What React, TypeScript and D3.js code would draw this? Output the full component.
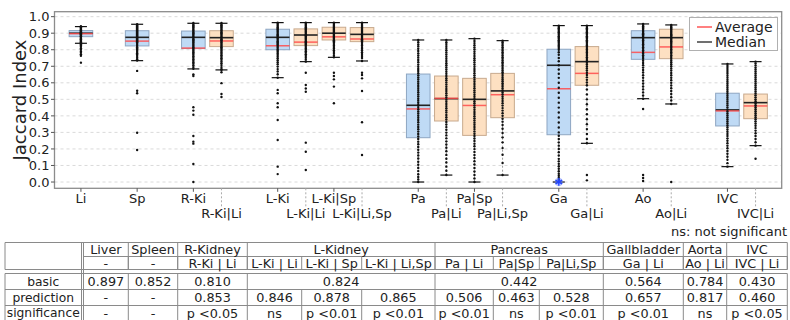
import React from "react";
import * as d3 from "d3";

// ---------- data ----------
const labels = ["Li","Sp","R-Ki","R-Ki|Li","L-Ki","L-Ki|Li","L-Ki|Sp","L-Ki|Li,Sp","Pa","Pa|Li","Pa|Sp","Pa|Li,Sp","Ga","Ga|Li","Ao","Ao|Li","IVC","IVC|Li"];
const slots = [0,2,4,5,7,8,9,10,12,13,14,15,17,18,20,21,23,24];
const isPrediction = [false,false,false,true,false,true,true,true,false,true,true,true,false,true,false,true,false,true];
const labelRow = [0,0,0,1,0,1,0,1,0,1,0,1,0,1,0,1,0,1];

const whiskerLow = [0.839,0.734,0.684,0.678,0.631,0.728,0.754,0.732,0.0,0.042,0.0,0.042,0.0,0.234,0.504,0.472,0.093,0.22];
const q1 = [0.879,0.823,0.807,0.819,0.80,0.825,0.859,0.849,0.268,0.369,0.282,0.389,0.286,0.585,0.742,0.746,0.339,0.383];
const medians = [0.90,0.875,0.875,0.873,0.875,0.889,0.90,0.893,0.464,0.504,0.50,0.551,0.706,0.728,0.873,0.873,0.436,0.48];
const means = [0.897,0.852,0.810,0.853,0.824,0.846,0.878,0.865,0.442,0.506,0.463,0.528,0.564,0.657,0.784,0.817,0.430,0.460];
const q3 = [0.916,0.915,0.913,0.915,0.924,0.926,0.936,0.934,0.653,0.641,0.627,0.657,0.803,0.819,0.915,0.924,0.537,0.532];
const whiskerHigh = [0.94,0.954,0.96,0.96,0.964,0.964,0.964,0.964,0.859,0.859,0.867,0.855,0.946,0.946,0.956,0.95,0.714,0.728];

const points: number[][] = [
  [0.942,0.936,0.931,0.927,0.922,0.918,0.914,0.91,0.906,0.903,0.9,0.897,0.894,0.89,0.886,0.882,0.878,0.873,0.868,0.864,0.859,0.855,0.85,0.846,0.841,0.833,0.826,0.818,0.809,0.8,0.79,0.781,0.772,0.763,0.722],
  [0.955,0.948,0.942,0.936,0.93,0.924,0.918,0.912,0.906,0.9,0.894,0.888,0.882,0.876,0.87,0.864,0.858,0.852,0.846,0.84,0.834,0.828,0.822,0.815,0.808,0.801,0.794,0.787,0.779,0.771,0.762,0.752,0.742,0.735,0.672,0.552,0.537,0.298,0.194],
  [0.962,0.955,0.948,0.941,0.934,0.927,0.92,0.913,0.906,0.899,0.892,0.885,0.878,0.871,0.864,0.857,0.85,0.843,0.836,0.829,0.822,0.815,0.808,0.8,0.793,0.785,0.777,0.769,0.761,0.752,0.743,0.734,0.725,0.716,0.706,0.695,0.685,0.651,0.641,0.452,0.432,0.407,0.278,0.244,0.232,0.109,0.0],
  [0.962,0.955,0.948,0.941,0.934,0.927,0.92,0.913,0.906,0.899,0.892,0.885,0.878,0.871,0.864,0.857,0.85,0.843,0.836,0.829,0.822,0.815,0.808,0.8,0.792,0.784,0.776,0.767,0.758,0.749,0.739,0.729,0.718,0.707,0.695,0.684,0.678,0.664,0.598,0.532,0.514],
  [0.964,0.957,0.95,0.943,0.936,0.929,0.922,0.915,0.908,0.901,0.894,0.887,0.88,0.873,0.866,0.859,0.852,0.845,0.838,0.831,0.824,0.817,0.81,0.802,0.794,0.786,0.777,0.768,0.758,0.748,0.737,0.725,0.712,0.698,0.683,0.668,0.652,0.631,0.557,0.537,0.476,0.452,0.375,0.254,0.093,0.048],
  [0.964,0.957,0.95,0.943,0.936,0.929,0.922,0.915,0.908,0.901,0.894,0.887,0.88,0.873,0.866,0.859,0.852,0.845,0.838,0.831,0.824,0.816,0.808,0.8,0.791,0.782,0.772,0.762,0.751,0.74,0.728,0.661,0.587,0.566,0.546,0.238,0.183,0.073],
  [0.964,0.957,0.95,0.943,0.937,0.931,0.925,0.919,0.913,0.907,0.901,0.895,0.889,0.883,0.877,0.871,0.865,0.858,0.851,0.843,0.835,0.826,0.817,0.807,0.797,0.786,0.775,0.764,0.754,0.661,0.641,0.621,0.577,0.476],
  [0.964,0.957,0.95,0.943,0.937,0.931,0.925,0.919,0.913,0.907,0.901,0.895,0.889,0.883,0.877,0.871,0.864,0.857,0.85,0.842,0.834,0.825,0.816,0.806,0.796,0.785,0.774,0.762,0.75,0.732,0.661,0.647,0.627,0.55,0.361,0.163],
  [0.859,0.845,0.832,0.82,0.806,0.792,0.778,0.765,0.752,0.738,0.724,0.71,0.697,0.684,0.671,0.658,0.645,0.632,0.62,0.607,0.594,0.581,0.568,0.556,0.543,0.53,0.517,0.504,0.492,0.479,0.466,0.453,0.44,0.427,0.414,0.401,0.388,0.375,0.361,0.347,0.333,0.319,0.305,0.29,0.275,0.26,0.244,0.228,0.212,0.195,0.178,0.16,0.142,0.123,0.104,0.085,0.066,0.047,0.03,0.015,0.0],
  [0.859,0.846,0.834,0.822,0.81,0.797,0.784,0.771,0.758,0.745,0.732,0.719,0.706,0.693,0.68,0.667,0.654,0.641,0.628,0.615,0.602,0.589,0.576,0.563,0.55,0.537,0.524,0.511,0.498,0.485,0.472,0.459,0.446,0.433,0.42,0.406,0.392,0.378,0.363,0.348,0.332,0.316,0.299,0.282,0.264,0.246,0.227,0.207,0.186,0.164,0.141,0.118,0.093,0.068,0.042],
  [0.867,0.853,0.84,0.827,0.814,0.801,0.788,0.775,0.762,0.749,0.736,0.723,0.71,0.697,0.684,0.671,0.658,0.645,0.632,0.619,0.606,0.593,0.58,0.567,0.554,0.541,0.528,0.515,0.502,0.489,0.476,0.463,0.45,0.437,0.424,0.411,0.398,0.385,0.372,0.359,0.346,0.333,0.32,0.306,0.292,0.278,0.263,0.248,0.232,0.216,0.199,0.182,0.164,0.145,0.126,0.106,0.085,0.064,0.043,0.022,0.0],
  [0.855,0.845,0.835,0.825,0.815,0.805,0.795,0.785,0.775,0.765,0.755,0.745,0.735,0.725,0.715,0.705,0.695,0.685,0.675,0.664,0.653,0.642,0.631,0.62,0.609,0.598,0.587,0.576,0.565,0.553,0.541,0.529,0.516,0.503,0.49,0.476,0.462,0.447,0.432,0.416,0.4,0.383,0.365,0.345,0.322,0.297,0.27,0.24,0.205,0.165,0.115,0.042],
  [0.946,0.938,0.93,0.922,0.914,0.906,0.898,0.89,0.882,0.874,0.866,0.858,0.85,0.842,0.834,0.826,0.818,0.81,0.8,0.785,0.77,0.75,0.73,0.706,0.68,0.655,0.63,0.6,0.57,0.54,0.51,0.48,0.45,0.42,0.39,0.36,0.33,0.3,0.28,0.26,0.24,0.22,0.2,0.18,0.16,0.14,0.125,0.11,0.095,0.08,0.065,0.05,0.038,0.026,0.015,0.005],
  [0.946,0.938,0.93,0.922,0.914,0.906,0.898,0.89,0.882,0.874,0.866,0.858,0.85,0.842,0.834,0.826,0.818,0.81,0.801,0.792,0.783,0.774,0.764,0.754,0.744,0.733,0.722,0.711,0.699,0.687,0.674,0.661,0.647,0.633,0.618,0.602,0.585,0.56,0.53,0.5,0.47,0.44,0.41,0.38,0.35,0.32,0.29,0.26,0.234,0.042,0.01],
  [0.956,0.949,0.942,0.935,0.928,0.921,0.914,0.907,0.9,0.893,0.886,0.879,0.872,0.865,0.857,0.849,0.841,0.833,0.824,0.815,0.806,0.797,0.787,0.777,0.767,0.756,0.745,0.733,0.72,0.706,0.692,0.677,0.662,0.646,0.63,0.613,0.596,0.578,0.56,0.542,0.523,0.504,0.442,0.042,0.024,0.006],
  [0.95,0.943,0.936,0.929,0.922,0.915,0.908,0.901,0.894,0.887,0.88,0.873,0.866,0.859,0.852,0.844,0.836,0.828,0.82,0.812,0.803,0.794,0.785,0.776,0.766,0.756,0.746,0.735,0.724,0.712,0.7,0.687,0.674,0.66,0.646,0.631,0.616,0.6,0.584,0.567,0.55,0.532,0.513,0.493,0.472,0.0],
  [0.714,0.702,0.69,0.678,0.666,0.654,0.642,0.63,0.618,0.606,0.594,0.582,0.57,0.558,0.546,0.534,0.522,0.51,0.498,0.486,0.474,0.462,0.45,0.438,0.426,0.414,0.402,0.39,0.378,0.366,0.354,0.342,0.33,0.317,0.304,0.291,0.278,0.264,0.25,0.235,0.22,0.204,0.188,0.171,0.153,0.134,0.114,0.093],
  [0.728,0.716,0.704,0.692,0.68,0.668,0.656,0.644,0.632,0.62,0.608,0.596,0.584,0.572,0.56,0.548,0.536,0.524,0.512,0.5,0.488,0.476,0.464,0.452,0.44,0.428,0.416,0.404,0.392,0.38,0.367,0.354,0.34,0.326,0.311,0.295,0.278,0.26,0.241,0.22,0.141],
];

const yTicks = [0,0.1,0.2,0.3,0.4,0.5,0.6,0.7,0.8,0.9,1.0];

// table data
const headerGroups = ["Liver","Spleen","R-Kidney","L-Kidney","Pancreas","Gallbladder","Aorta","IVC"];
const groupSpans = [1,1,1,3,3,1,1,1];
const subHeaders = ["-","-","R-Ki | Li","L-Ki | Li","L-Ki | Sp","L-Ki | Li,Sp","Pa | Li","Pa|Sp","Pa|Li,Sp","Ga | Li","Ao | Li","IVC | Li"];
const basicRow = ["0.897","0.852","0.810","0.824","0.442","0.564","0.784","0.430"];
const predictionRow = ["-","-","0.853","0.846","0.878","0.865","0.506","0.463","0.528","0.657","0.817","0.460"];
const significanceRow = ["-","-","p <0.05","ns","p <0.01","p <0.01","p <0.01","ns","p <0.01","p <0.01","ns","p <0.05"];
const rowLabels = ["basic","prediction","significance"];

// ---------- layout ----------
const W = 790, H = 320;
const FONT = "DejaVu Sans, sans-serif";
const plot = { left: 54.5, right: 781.7, top: 11.7, bottom: 188.3 };
const colEdges = [83.5,128.3,177.7,247.3,301.7,361.7,435,493.3,539.3,603.3,683.3,726.7,787.3];
const tableLeft = 5;

export default function App() {
  const x = d3.scaleLinear().domain([-0.94, 24.93]).range([plot.left, plot.right]);
  const y = d3.scaleLinear().domain([-0.038, 1.03]).range([plot.bottom, plot.top]);
  const boxW = 23.6;
  const capW = 12;
  const lineColor = "#8a8a8a";

  const groupEdges: number[][] = [];
  let c = 0;
  groupSpans.forEach((s) => {
    groupEdges.push([colEdges[c], colEdges[c + s]]);
    c += s;
  });

  const hTop = 242.5, hMid = 256.5, hBot = 269.5, bTop = 273.5;
  const bodyLines = [bTop, 289.5, 305.5, 320.5];
  const ast = d3.symbol().type(d3.symbolAsterisk).size(40)();

  return (
    <svg width={W} height={H} style={{ position: "absolute", left: 0, top: 0, background: "#fff" }} fontFamily={FONT}>
      <rect x={0} y={0} width={W} height={H} fill="#fff" />
      {yTicks.map((t) => (
        <line key={"g" + t} x1={plot.left} x2={plot.right} y1={y(t)} y2={y(t)} stroke="#d0d0d0" strokeWidth={0.8} strokeDasharray="3,3" />
      ))}
      {labels.map((lab, i) => {
        const cx = x(slots[i]);
        const fill = isPrediction[i] ? "#fde0c2" : "#bfdaf5";
        const edge = isPrediction[i] ? "#c8aa8e" : "#8ea6c2";
        return (
          <g key={"b" + lab}>
            <line x1={cx} x2={cx} y1={y(q3[i])} y2={y(whiskerHigh[i])} stroke="#999" strokeWidth={1} strokeDasharray="2,2" />
            <line x1={cx} x2={cx} y1={y(q1[i])} y2={y(whiskerLow[i])} stroke="#999" strokeWidth={1} strokeDasharray="2,2" />
            <line x1={cx - capW / 2} x2={cx + capW / 2} y1={y(whiskerHigh[i])} y2={y(whiskerHigh[i])} stroke="#111" strokeWidth={1.2} />
            <line x1={cx - capW / 2} x2={cx + capW / 2} y1={y(whiskerLow[i])} y2={y(whiskerLow[i])} stroke="#111" strokeWidth={1.2} />
            <rect x={cx - boxW / 2} y={y(q3[i])} width={boxW} height={y(q1[i]) - y(q3[i])} fill={fill} stroke={edge} strokeWidth={1} />
            <line x1={cx - boxW / 2} x2={cx + boxW / 2} y1={y(medians[i])} y2={y(medians[i])} stroke="#222" strokeWidth={1.6} />
            <line x1={cx - boxW / 2} x2={cx + boxW / 2} y1={y(means[i])} y2={y(means[i])} stroke="#ff4a4a" strokeWidth={1.5} strokeOpacity={0.85} />
          </g>
        );
      })}
      {labels.map((lab, i) => (
        <g key={"p" + lab}>
          {points[i].map((v, k) => (
            <circle key={k} cx={x(slots[i])} cy={y(v)} r={1.2} fill="#111" />
          ))}
        </g>
      ))}
      {/* blue flier marker on Ga */}
      <circle cx={x(slots[12])} cy={y(0)} r={4.2} fill="#5a78ff" fillOpacity={0.45} />
      <path d={ast as string} transform={`translate(${x(slots[12])},${y(0)})`} fill="none" stroke="#2244ff" strokeWidth={1.4} />
      <rect x={plot.left} y={plot.top} width={plot.right - plot.left} height={plot.bottom - plot.top} fill="none" stroke="#8c8c8c" strokeWidth={1.3} />
      {yTicks.map((t) => (
        <g key={"yt" + t}>
          <line x1={plot.left - 3.5} x2={plot.left} y1={y(t)} y2={y(t)} stroke="#555" strokeWidth={1} />
          <text x={plot.left - 5} y={y(t)} dy="0.36em" textAnchor="end" fontSize={13} fill="#222">{t.toFixed(1)}</text>
        </g>
      ))}
      <text transform={`translate(20,${(plot.top + plot.bottom) / 2}) rotate(-90)`} textAnchor="middle" dy="0.35em" fontSize={18} fill="#222">Jaccard Index</text>
      {labels.map((lab, i) => {
        const cx = x(slots[i]);
        return (
          <g key={"xt" + lab}>
            {labelRow[i] === 1 ? (
              <line x1={cx} x2={cx} y1={plot.bottom} y2={207} stroke="#aaa" strokeWidth={1} strokeDasharray="2,2" />
            ) : (
              <line x1={cx} x2={cx} y1={plot.bottom} y2={plot.bottom + 3.5} stroke="#555" strokeWidth={1} />
            )}
            <text x={cx} y={labelRow[i] === 1 ? 217.5 : 203} textAnchor="middle" fontSize={13} fill="#222">{lab}</text>
          </g>
        );
      })}
      <rect x={689.5} y={17.5} width={88} height={33} fill="#fff" stroke="#b0b0b0" strokeWidth={1} />
      <line x1={697} x2={712} y1={27} y2={27} stroke="#ff3b3b" strokeWidth={1.3} />
      <text x={715} y={31.5} fontSize={14} fill="#222">Average</text>
      <line x1={697} x2={712} y1={42} y2={42} stroke="#222" strokeWidth={1.3} />
      <text x={715} y={46.5} fontSize={14} fill="#222">Median</text>

      <text x={787} y={236} textAnchor="end" fontSize={13} fill="#222">ns: not significant</text>
      <g stroke={lineColor} strokeWidth={1} fill="none">
        <line x1={tableLeft} x2={colEdges[colEdges.length - 1]} y1={hTop} y2={hTop} />
        <line x1={colEdges[0]} x2={colEdges[colEdges.length - 1]} y1={hMid} y2={hMid} />
        <line x1={tableLeft} x2={colEdges[colEdges.length - 1]} y1={hBot} y2={hBot} />
        {bodyLines.map((yy) => (
          <line key={"bl" + yy} x1={tableLeft} x2={colEdges[colEdges.length - 1]} y1={yy} y2={yy} />
        ))}
        <line x1={tableLeft} x2={tableLeft} y1={hTop} y2={hBot} />
        <line x1={tableLeft} x2={tableLeft} y1={bTop} y2={320.5} />
        <line x1={81.5} x2={81.5} y1={hTop} y2={320.5} />
        <line x1={83.5} x2={83.5} y1={hTop} y2={320.5} />
        {groupEdges.map((g, k) => (
          <line key={"hg" + k} x1={g[1]} x2={g[1]} y1={hTop} y2={hBot} />
        ))}
        {colEdges.slice(1).map((e, k) => (
          <line key={"sh" + k} x1={e} x2={e} y1={hMid} y2={hBot} />
        ))}
        {groupEdges.map((g, k) => (
          <line key={"br" + k} x1={g[1]} x2={g[1]} y1={bodyLines[0]} y2={bodyLines[1]} />
        ))}
        {colEdges.slice(1).map((e, k) => (
          <line key={"pr" + k} x1={e} x2={e} y1={bodyLines[1]} y2={320.5} />
        ))}
      </g>
      <g fontSize={12.8} fill="#222" textAnchor="middle">
        {headerGroups.map((h, k) => (
          <text key={"h" + h} x={(groupEdges[k][0] + groupEdges[k][1]) / 2} y={(hTop + hMid) / 2} dy="0.36em">{h}</text>
        ))}
        {subHeaders.map((s, k) => (
          <text key={"s" + k} x={(colEdges[k] + colEdges[k + 1]) / 2} y={(hMid + hBot) / 2} dy="0.36em">{s}</text>
        ))}
        {rowLabels.map((r, k) => (
          <text key={"r" + r} x={(tableLeft + 81.5) / 2} y={(bodyLines[k] + bodyLines[k + 1]) / 2} dy="0.36em" fontSize={12.3}>{r}</text>
        ))}
        {basicRow.map((v, k) => (
          <text key={"bv" + k} x={(groupEdges[k][0] + groupEdges[k][1]) / 2} y={(bodyLines[0] + bodyLines[1]) / 2} dy="0.36em">{v}</text>
        ))}
        {predictionRow.map((v, k) => (
          <text key={"pv" + k} x={(colEdges[k] + colEdges[k + 1]) / 2} y={(bodyLines[1] + bodyLines[2]) / 2} dy="0.36em">{v}</text>
        ))}
        {significanceRow.map((v, k) => (
          <text key={"sv" + k} x={(colEdges[k] + colEdges[k + 1]) / 2} y={(bodyLines[2] + bodyLines[3]) / 2} dy="0.36em">{v}</text>
        ))}
      </g>
    </svg>
  );
}
